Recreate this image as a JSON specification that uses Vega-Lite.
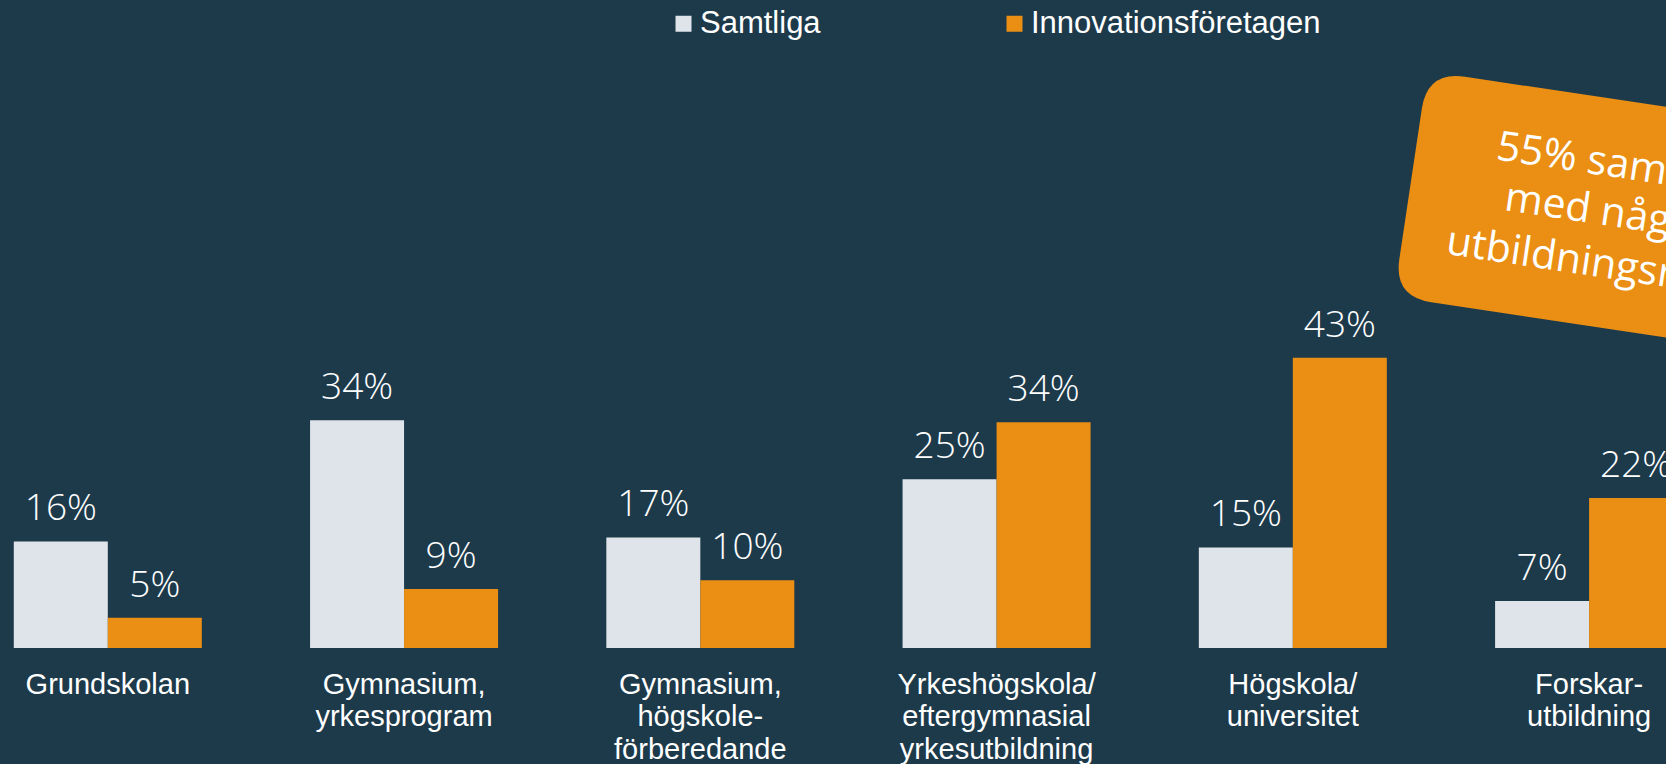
{
  "$schema": "https://vega.github.io/schema/vega-lite/v6.json",
  "width": 1666,
  "height": 648,
  "autosize": {"type": "none"},
  "padding": {"left": 0, "top": 0, "right": 0, "bottom": 116},
  "background": "#1D3A4B",
  "config": {"view": {"stroke": null}},
  "datasets": {
    "bars": [
      {"category": "Grundskolan", "series": "Samtliga", "value": 0.159, "label": "16%"},
      {"category": "Grundskolan", "series": "Innovationsföretagen", "value": 0.045, "label": "5%"},
      {"category": "Gymnasium,|yrkesprogram", "series": "Samtliga", "value": 0.340, "label": "34%"},
      {"category": "Gymnasium,|yrkesprogram", "series": "Innovationsföretagen", "value": 0.088, "label": "9%"},
      {"category": "Gymnasium,|högskole-|förberedande", "series": "Samtliga", "value": 0.165, "label": "17%"},
      {"category": "Gymnasium,|högskole-|förberedande", "series": "Innovationsföretagen", "value": 0.101, "label": "10%"},
      {"category": "Yrkeshögskola/|eftergymnasial|yrkesutbildning", "series": "Samtliga", "value": 0.252, "label": "25%"},
      {"category": "Yrkeshögskola/|eftergymnasial|yrkesutbildning", "series": "Innovationsföretagen", "value": 0.337, "label": "34%"},
      {"category": "Högskola/|universitet", "series": "Samtliga", "value": 0.150, "label": "15%"},
      {"category": "Högskola/|universitet", "series": "Innovationsföretagen", "value": 0.433, "label": "43%"},
      {"category": "Forskar-|utbildning", "series": "Samtliga", "value": 0.070, "label": "7%"},
      {"category": "Forskar-|utbildning", "series": "Innovationsföretagen", "value": 0.224, "label": "22%"}
    ],
    "note": [
      {"category": "Forskar-|utbildning", "y": 0.6506, "line1": "55% samverkar", "line2": "med någon", "line3": "utbildningsnivå"}
    ]
  },
  "layer": [
    {
      "data": {"name": "bars"},
      "mark": {"type": "bar"},
      "encoding": {
        "x": {
          "field": "category", "type": "nominal", "sort": null,
          "scale": {"range": [0, 1696.9], "paddingInner": 0.3654, "paddingOuter": 0.0466},
          "axis": {
            "orient": "bottom", "title": null, "ticks": false, "tickSize": 0, "domain": false, "grid": false,
            "labelAngle": 0, "labelFont": "Liberation Sans", "labelFontSize": 29, "labelColor": "#FFFFFF",
            "labelLineHeight": 32.7, "labelPadding": 22, "labelLimit": 400, "labelOverlap": false,
            "labelBaseline": "top", "labelExpr": "split(datum.label, '|')"
          }
        },
        "xOffset": {
          "field": "series", "type": "nominal", "sort": ["Samtliga", "Innovationsföretagen"],
          "scale": {"paddingInner": 0, "paddingOuter": 0}
        },
        "y": {"field": "value", "type": "quantitative", "scale": {"domain": [0, 0.967]}, "axis": null},
        "color": {
          "field": "series", "type": "nominal", "sort": ["Samtliga", "Innovationsföretagen"],
          "scale": {"domain": ["Samtliga", "Innovationsföretagen"], "range": ["#DFE3EA", "#EA8F14"]},
          "legend": {
            "orient": "none", "legendX": 668, "legendY": 8, "direction": "horizontal", "title": null,
            "labelFont": "Liberation Sans", "labelFontSize": 31, "labelColor": "#FFFFFF", "labelLimit": 600,
            "symbolType": "square", "symbolSize": 256, "symbolStrokeWidth": 0, "symbolOpacity": 1,
            "labelOffset": 1, "columnPadding": 178, "padding": 0, "offset": 0
          }
        }
      }
    },
    {
      "data": {"name": "bars"},
      "mark": {"type": "text", "dy": -21, "baseline": "alphabetic", "align": "center", "font": "Open Sans", "fontWeight": 300, "fontSize": 37, "color": "#FFFFFF"},
      "encoding": {
        "x": {"field": "category", "type": "nominal", "sort": null},
        "xOffset": {"field": "series", "type": "nominal", "sort": ["Samtliga", "Innovationsföretagen"]},
        "y": {"field": "value", "type": "quantitative", "scale": {"domain": [0, 0.967]}},
        "text": {"field": "label"}
      }
    },
    {
      "data": {"name": "note"},
      "mark": {
        "type": "point",
        "shape": "M -152 -114 L 152 -114 Q 190 -114 190 -76 L 190 76 Q 190 114 152 114 L -152 114 Q -190 114 -190 76 L -190 -76 Q -190 -114 -152 -114 Z",
        "size": 4, "angle": 8.5, "filled": true, "fill": "#EA8F14", "fillOpacity": 1, "opacity": 1, "strokeWidth": 0
      },
      "encoding": {
        "x": {"field": "category", "type": "nominal", "sort": null, "bandPosition": 0.55},
        "y": {"field": "y", "type": "quantitative", "scale": {"domain": [0, 0.967]}}
      }
    },
    {
      "data": {"name": "note"},
      "mark": {"type": "text", "angle": 8.5, "baseline": "alphabetic", "align": "left", "font": "Open Sans", "fontWeight": 400, "fontSize": 41, "color": "#FFFFFF", "dx": -110, "dy": -37},
      "encoding": {
        "x": {"field": "category", "type": "nominal", "sort": null, "bandPosition": 0.55},
        "y": {"field": "y", "type": "quantitative", "scale": {"domain": [0, 0.967]}},
        "text": {"field": "line1"}
      }
    },
    {
      "data": {"name": "note"},
      "mark": {"type": "text", "angle": 8.5, "baseline": "alphabetic", "align": "left", "font": "Open Sans", "fontWeight": 400, "fontSize": 41, "color": "#FFFFFF", "dx": -94.4, "dy": 12},
      "encoding": {
        "x": {"field": "category", "type": "nominal", "sort": null, "bandPosition": 0.55},
        "y": {"field": "y", "type": "quantitative", "scale": {"domain": [0, 0.967]}},
        "text": {"field": "line2"}
      }
    },
    {
      "data": {"name": "note"},
      "mark": {"type": "text", "angle": 8.5, "baseline": "alphabetic", "align": "left", "font": "Open Sans", "fontWeight": 400, "fontSize": 41, "color": "#FFFFFF", "dx": -145.7, "dy": 64},
      "encoding": {
        "x": {"field": "category", "type": "nominal", "sort": null, "bandPosition": 0.55},
        "y": {"field": "y", "type": "quantitative", "scale": {"domain": [0, 0.967]}},
        "text": {"field": "line3"}
      }
    }
  ]
}
